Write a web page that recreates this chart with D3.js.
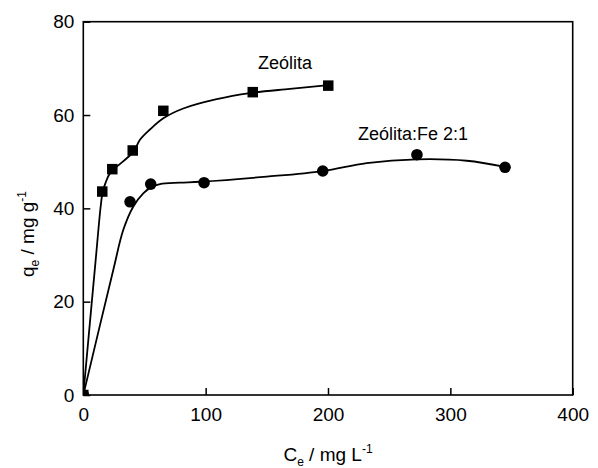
<!DOCTYPE html>
<html lang="en">
  <head>
    <meta charset="UTF-8" />
    <title>Isotherms</title>
    <script src="https://cdn.jsdelivr.net/npm/d3@7"></script>
    <style>
      body {
        margin: 0;
        background: #fff;
        font-family: "Liberation Sans", Arial, sans-serif;
      }
      .tick text {
        font-size: 19px;
      }
    </style>
  </head>
  <body>
    <div id="chart"></div>
    <script>
      // measured points
      var zeoX = [0, 15.5, 23.7, 40.4, 65.4, 138.5, 200.2];
      var zeoY = [0, 43.6, 48.4, 52.4, 60.9, 64.9, 66.3];
      var feX = [0, 38.2, 55.1, 98.7, 195.7, 272.7, 344.7];
      var feY = [0, 41.4, 45.2, 45.5, 48.0, 51.5, 48.8];

      // fitted curves
      var zeoFitX = [0, 10.1, 14.2, 15.9, 18.1, 21.8, 40.9, 46.3, 54.5, 65.4, 81.7, 109, 136.2, 168.9, 200.2];
      var zeoFitY = [0, 28.9, 40.4, 43.6, 45.4, 47.5, 52.1, 54.7, 56.9, 59.3, 61.4, 63.4, 64.7, 65.6, 66.4];
      var feFitX = [0, 24.5, 32.7, 40.9, 49, 55.9, 62.7, 79, 95.4, 149.9, 195.7, 231.6, 272.5, 313.4, 344.7];
      var feFitY = [0, 26.8, 35.4, 40.4, 43.2, 44.6, 45.2, 45.5, 45.7, 46.8, 48.0, 49.7, 50.5, 50.2, 48.9];

      var xTicks = [0, 100, 200, 300, 400];
      var yTicks = [0, 20, 40, 60, 80];

      var W = 598, H = 468;
      var margin = { top: 21.7, right: 25.3, bottom: 73, left: 83.3 },
        width = W - margin.left - margin.right,
        height = H - margin.top - margin.bottom;

      var svg = d3
        .select("#chart")
        .append("svg")
        .attr("width", W)
        .attr("height", H)
        .append("g")
        .attr("transform", "translate(" + margin.left + "," + margin.top + ")");

      var x = d3.scaleLinear().domain([0, 400]).range([0, width]);
      var y = d3.scaleLinear().domain([0, 80]).range([height, 0]);

      svg
        .append("clipPath")
        .attr("id", "clip")
        .append("rect")
        .attr("width", width)
        .attr("height", height);

      // axes with inward ticks
      svg
        .append("g")
        .attr("transform", "translate(0," + height + ")")
        .call(d3.axisBottom(x).tickValues(xTicks).tickSizeInner(-7).tickSizeOuter(0).tickPadding(13))
        .call((g) => g.select(".domain").remove())
        .call((g) => g.selectAll("line").attr("stroke-width", 1.5));

      svg
        .append("g")
        .call(d3.axisLeft(y).tickValues(yTicks).tickSizeInner(-7).tickSizeOuter(0).tickPadding(9))
        .call((g) => g.select(".domain").remove())
        .call((g) => g.selectAll("line").attr("stroke-width", 1.5));

      svg.selectAll(".tick text").attr("fill", "#000");

      svg
        .append("rect")
        .attr("width", width)
        .attr("height", height)
        .attr("fill", "none")
        .attr("stroke", "#000")
        .attr("stroke-width", 1.6);

      var line = d3
        .line()
        .curve(d3.curveCatmullRom.alpha(0.5))
        .x((d) => x(d[0]))
        .y((d) => y(d[1]));

      var plot = svg.append("g").attr("clip-path", "url(#clip)");

      plot
        .append("path")
        .datum(d3.zip(zeoFitX, zeoFitY))
        .attr("fill", "none")
        .attr("stroke", "#000")
        .attr("stroke-width", 1.8)
        .attr("d", line);

      plot
        .append("path")
        .datum(d3.zip(feFitX, feFitY))
        .attr("fill", "none")
        .attr("stroke", "#000")
        .attr("stroke-width", 1.8)
        .attr("d", line);

      var sq = 10.5;
      plot
        .selectAll(".sq")
        .data(d3.zip(zeoX, zeoY))
        .enter()
        .append("rect")
        .attr("x", (d) => x(d[0]) - sq / 2)
        .attr("y", (d) => y(d[1]) - sq / 2)
        .attr("width", sq)
        .attr("height", sq)
        .attr("fill", "#000");

      plot
        .selectAll(".ci")
        .data(d3.zip(feX, feY))
        .enter()
        .append("circle")
        .attr("cx", (d) => x(d[0]))
        .attr("cy", (d) => y(d[1]))
        .attr("r", 5.8)
        .attr("fill", "#000");

      // series labels
      svg
        .append("text")
        .attr("x", x(142.8))
        .attr("y", y(69.9))
        .attr("font-size", 18)
        .text("Zeólita");

      svg
        .append("text")
        .attr("x", x(224.5))
        .attr("y", y(54.7))
        .attr("font-size", 18)
        .text("Zeólita:Fe 2:1");

      // axis titles
      var xt = svg
        .append("text")
        .attr("x", width / 2)
        .attr("y", height + 66)
        .attr("text-anchor", "middle")
        .attr("font-size", 19);
      xt.append("tspan").text("C");
      xt.append("tspan").attr("font-size", 12).attr("dy", 5).text("e");
      xt.append("tspan").attr("dy", -5).text(" / mg L");
      xt.append("tspan").attr("font-size", 12).attr("dy", -8).text("-1");

      var yt = svg
        .append("text")
        .attr("transform", "translate(" + (33.5 - margin.left) + "," + (234 - margin.top) + ") rotate(-90)")
        .attr("text-anchor", "middle")
        .attr("font-size", 19);
      yt.append("tspan").text("q");
      yt.append("tspan").attr("font-size", 12).attr("dy", 5).text("e");
      yt.append("tspan").attr("dy", -5).text(" / mg g");
      yt.append("tspan").attr("font-size", 12).attr("dy", -8).text("-1");
    </script>
  </body>
</html>
